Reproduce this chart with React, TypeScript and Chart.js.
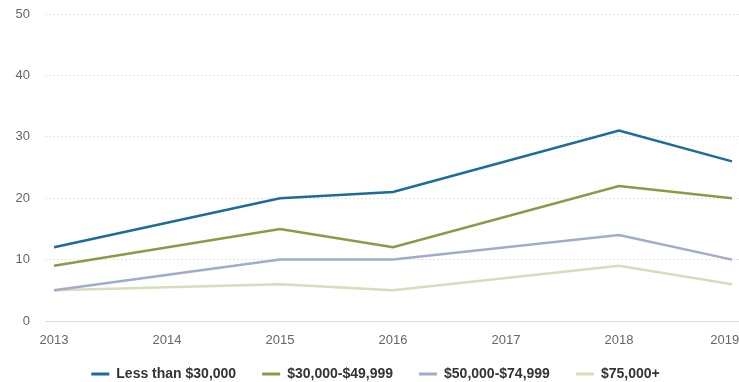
import React, { useEffect, useRef } from "react";
import { Chart, registerables } from "chart.js";

Chart.register(...registerables);

const years = [2013, 2014, 2015, 2016, 2017, 2018, 2019];
const dataYears = [2013, 2015, 2016, 2018, 2019];
const seriesNames = ["Less than $30,000", "$30,000-$49,999", "$50,000-$74,999", "$75,000+"];
const lessThan30k = [12, 20, 21, 31, 26];
const from30kTo50k = [9, 15, 12, 22, 20];
const from50kTo75k = [5, 10, 10, 14, 10];
const over75k = [5, 6, 5, 9, 6];
const yTicks = [0, 10, 20, 30, 40, 50];
const colors = ["#1a6d9a", "#8a9a45", "#a0acca", "#d6ddb9"];

const layoutTweak = {
  id: "layoutTweak",
  afterLayout(chart: any) {
    const sx = chart.scales.x;
    sx.bottom = sx.top + 32;
    if (chart.legend) {
      chart.legend.left += 6;
      chart.legend.right += 6;
    }
  },
};

export default function App() {
  const ref = useRef<HTMLCanvasElement | null>(null);
  useEffect(() => {
    if (!ref.current) return;
    const all = [lessThan30k, from30kTo50k, from50kTo75k, over75k];
    const chart = new Chart(ref.current, {
      type: "line",
      data: {
        datasets: all.map((vals, i) => ({
          label: seriesNames[i],
          data: vals.map((v, j) => ({ x: dataYears[j], y: v })),
          borderColor: colors[i],
          backgroundColor: colors[i],
          borderWidth: 2.5,
          pointRadius: 0,
          tension: 0,
          fill: false,
        })),
      },
      plugins: [layoutTweak],
      options: {
        animation: false,
        responsive: false,
        layout: { padding: { top: 14, bottom: -9, left: 0, right: 0 } },
        plugins: {
          tooltip: { enabled: false },
          legend: {
            position: "bottom",
            labels: {
              boxWidth: 18,
              boxHeight: 3,
              padding: 26,
              color: "#333333",
              font: { family: "'Liberation Sans', Arial, sans-serif", size: 14, weight: "bold" },
              generateLabels: (c: any) =>
                c.data.datasets.map((d: any, i: number) => ({
                  text: d.label,
                  fillStyle: colors[i],
                  strokeStyle: colors[i],
                  lineWidth: 0,
                  hidden: false,
                  datasetIndex: i,
                  fontColor: "#333333",
                })),
            },
          },
        },
        scales: {
          x: {
            type: "linear",
            min: 2012.92,
            max: 2019.062,
            afterBuildTicks: (scale: any) => {
              scale.ticks = years.map((y) => ({ value: y }));
            },
            afterFit: (scale: any) => {
              scale.paddingRight = 0;
              scale.paddingLeft = 0;
              scale.height = 20;
            },
            grid: { display: false, drawTicks: false },
            border: { display: true, color: "#dcdcdc", width: 1 },
            ticks: {
              padding: 12,
              color: "#666666",
              maxRotation: 0,
              autoSkip: false,
              font: { family: "'Liberation Sans', Arial, sans-serif", size: 13 },
              callback: (v: any) => (v === 2019 ? "2019    " : String(v)),
            },
          },
          y: {
            min: 0,
            max: 50,
            afterBuildTicks: (scale: any) => {
              scale.ticks = yTicks.map((v) => ({ value: v }));
            },
            afterFit: (scale: any) => {
              scale.width = 45;
              scale.paddingTop = 0;
              scale.paddingBottom = 0;
            },
            grid: { color: "#e4e4e4", lineWidth: 1, drawTicks: false },
            border: { display: false, dash: [2, 2] },
            ticks: {
              padding: 15,
              color: "#666666",
              font: { family: "'Liberation Sans', Arial, sans-serif", size: 13 },
            },
          },
        },
      },
    });
    return () => chart.destroy();
  }, []);
  return (
    <div style={{ position: "fixed", left: 0, top: 0, width: 739, height: 382, background: "#fff" }}>
      <canvas ref={ref} width={739} height={382} style={{ display: "block" }} />
    </div>
  );
}
